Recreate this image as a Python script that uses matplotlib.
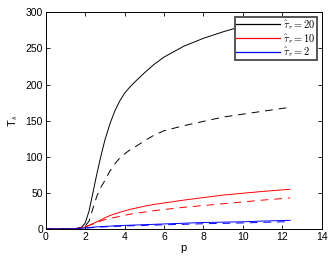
import matplotlib
matplotlib.use("Agg")
import matplotlib.pyplot as plt

plt.rcParams['font.family'] = ['Liberation Sans', 'DejaVu Sans']
plt.rcParams['mathtext.fontset'] = 'cm'

# values
p = [0, 1.0, 1.5, 1.8, 2.0, 2.2, 2.4, 2.6, 2.8, 3.0, 3.25, 3.5, 3.75, 4.0,
     4.25, 4.5, 5.0, 5.5, 6.0, 7.0, 8.0, 9.0, 10.0, 11.0, 12.4]

tau20_solid = [0, 0.1, 0.6, 2.0, 8, 25, 51, 77, 101, 123, 145, 163, 177, 188,
               196, 203, 216, 228, 238, 253, 264, 273, 281, 287, 294]
tau20_dash = [0, 0.1, 0.6, 1.8, 4, 11, 29, 46, 58, 67, 80, 90, 98, 104,
              109, 113, 122, 130, 136, 143, 149, 155, 159, 163, 168.5]
tau10_solid = [0, 0.1, 0.5, 1.5, 3, 5, 7.5, 10, 12.5, 15.5, 18.5, 21, 23, 25,
               27, 28.5, 31.5, 34, 36, 40, 43.5, 47, 49.5, 52, 55]
tau10_dash = [0, 0.1, 0.5, 1.5, 3, 5, 7, 9, 11, 13, 14.5, 16, 17.5, 19,
              20.3, 21.5, 23.5, 25.5, 27, 30, 32.5, 35, 37.5, 40, 43]
tau2_solid = [0, 0.1, 0.4, 1.0, 1.5, 2.0, 2.5, 3.0, 3.3, 3.6, 4.0, 4.4, 4.7, 5.0,
              5.25, 5.5, 6.0, 6.5, 7.0, 8.0, 9.0, 9.5, 10.0, 11.0, 12.0]
tau2_dash = [0, 0.1, 0.3, 0.8, 1.2, 1.6, 2.0, 2.4, 2.7, 3.0, 3.3, 3.6, 3.9, 4.2,
             4.4, 4.6, 5.0, 5.4, 5.8, 6.5, 7.3, 7.8, 8.4, 9.2, 10.2]

labels = [r'$\hat{\tau}_r = 20$', r'$\hat{\tau}_r = 10$', r'$\hat{\tau}_r = 2$']

fig = plt.figure(figsize=(3.32, 2.59), dpi=100)
ax = fig.add_axes([0.1377, 0.1158, 0.8313, 0.8367])

lw = 0.7
dash = (0, (8, 6))
h1, = ax.plot(p, tau20_solid, color='k', lw=lw)
h2, = ax.plot(p, tau10_solid, color='r', lw=lw)
h3, = ax.plot(p, tau2_solid, color='b', lw=lw)
ax.plot(p, tau20_dash, color='k', lw=lw, linestyle=dash)
ax.plot(p, tau10_dash, color='r', lw=lw, linestyle=dash)
ax.plot(p, tau2_dash, color='b', lw=lw, linestyle=dash)

ax.set_xlim(0, 14)
ax.set_ylim(0, 300)
ax.set_xticks(range(0, 15, 2))
ax.set_yticks(range(0, 301, 50))
ax.tick_params(direction='in', top=True, right=True, length=3, width=0.6,
               labelsize=7.5, pad=2)
for s in ax.spines.values():
    s.set_linewidth(0.7)

ax.set_xlabel('p', fontsize=8, labelpad=1)
ax.set_ylabel(r'T$_s$', fontsize=8, labelpad=4)

leg = ax.legend([h1, h2, h3], labels, loc='upper right', fontsize=7.5,
                frameon=True, fancybox=False, framealpha=1,
                borderpad=0.1, labelspacing=0.0, handlelength=4.2,
                handletextpad=0.3, borderaxespad=0.45)
leg.get_frame().set_edgecolor('#555555')
leg.get_frame().set_linewidth(1.4)
for ln in leg.get_lines():
    ln.set_linewidth(0.9)

fig.savefig('out.png', dpi=100)
